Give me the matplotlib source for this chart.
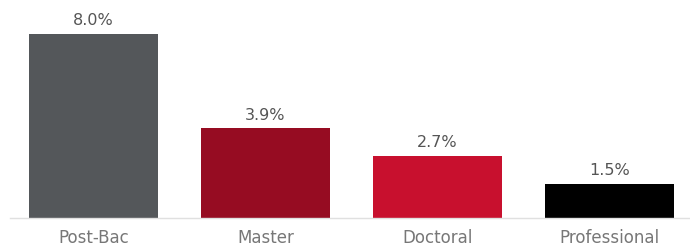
import matplotlib
matplotlib.use('Agg')
import matplotlib.pyplot as plt

categories = ["Post-Bac", "Master", "Doctoral", "Professional"]
values = [8.0, 3.9, 2.7, 1.5]
bar_colors = ["#54575a", "#960c22", "#c8102e", "#000000"]

fig = plt.figure(figsize=(6.9, 2.5), dpi=100, facecolor='white')
ax = fig.add_axes([7.5 / 690, 32 / 250, 688 / 690, 218 / 250])

x = range(len(categories))
bars = ax.bar(x, values, width=0.75, color=bar_colors, zorder=2)

for b, v in zip(bars, values):
    ax.annotate(f"{v:.1f}%", (b.get_x() + b.get_width() / 2, v),
                xytext=(0, 4), textcoords='offset points',
                ha='center', va='bottom', fontsize=11.5, color='#555555')

ax.set_xlim(-0.5, 3.5)
ax.set_ylim(0, 218 / 23)
ax.set_xticks(list(x))
ax.set_xticklabels(categories, fontsize=12, color='#777777')
ax.tick_params(axis='x', length=0, pad=8)
ax.set_yticks([])
for side in ['top', 'right', 'left']:
    ax.spines[side].set_visible(False)
ax.spines['bottom'].set_color('#e0e0e0')
ax.spines['bottom'].set_linewidth(1)
ax.spines['bottom'].set_bounds(-0.485, 3.5)

fig.savefig('out.png', dpi=100, facecolor='white')
